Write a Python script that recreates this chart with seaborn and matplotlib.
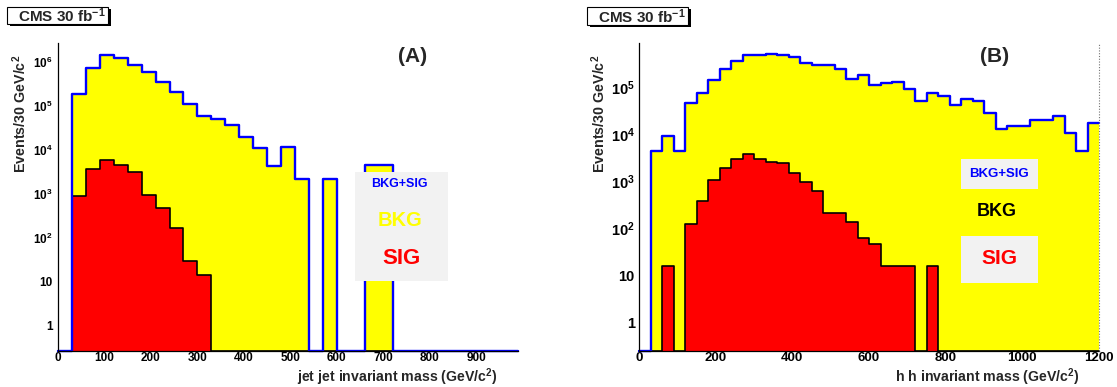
import numpy as np
import pandas as pd
import matplotlib
matplotlib.use("Agg")
import matplotlib.pyplot as plt
import seaborn as sns
from matplotlib.patches import Rectangle
from matplotlib.ticker import MultipleLocator, LogLocator, FuncFormatter, NullFormatter

# ---------------------------------------------------------------- data
BIN_WIDTH = 30  # GeV/c^2

# (A) jet-jet invariant mass, 33 bins from 0 to 990 GeV/c^2
jj_total = [0, 1.9e5, 7.4e5, 1.5e6, 1.28e6, 8.5e5, 6.1e5, 3.56e5, 2.1e5, 1.1e5,
            5.9e4, 5.0e4, 3.8e4, 2.0e4, 1.12e4, 4.4e3, 1.15e4, 2.15e3, 0, 2.15e3,
            0, 0, 4.5e3, 4.5e3, 0, 0, 0, 0, 0, 0,
            0, 0, 0]
jj_signal = [0, 900, 3.7e3, 5.8e3, 4.5e3, 3.1e3, 950, 470, 170, 29,
             14, 0, 0, 0, 0, 0, 0, 0, 0, 0,
             0, 0, 0, 0, 0, 0, 0, 0, 0, 0,
             0, 0, 0]

# (B) h h invariant mass, 40 bins from 0 to 1200 GeV/c^2
hh_total = [0, 4.5e3, 9.2e3, 4.5e3, 4.8e4, 7.8e4, 1.46e5, 2.46e5, 3.7e5, 4.9e5,
            5.0e5, 5.3e5, 4.9e5, 4.5e5, 3.4e5, 3.0e5, 3.1e5, 2.46e5, 1.55e5, 1.86e5,
            1.14e5, 1.28e5, 1.34e5, 9.5e4, 5.2e4, 7.6e4, 6.6e4, 4.2e4, 5.6e4, 5.3e4,
            2.9e4, 1.3e4, 1.5e4, 1.55e4, 2.05e4, 2.05e4, 2.5e4, 1.1e4, 4.5e3, 1.8e4]
hh_signal = [0, 0, 16, 0, 128, 390, 1.1e3, 2.0e3, 3.0e3, 3.9e3,
             3.1e3, 2.6e3, 2.5e3, 1.55e3, 980, 630, 215, 215, 138, 63,
             48, 16, 16, 16, 0, 16, 0, 0, 0, 0,
             0, 0, 0, 0, 0, 0, 0, 0, 0, 0]

panel_tags = ["(A)", "(B)"]
x_titles = ["jet jet invariant mass (GeV/c$^{2}$)", "h h invariant mass (GeV/c$^{2}$)"]
y_title = "Events/30 GeV/c$^{2}$"
lumi_text = "CMS 30 fb$^{-1}$"
legend_labels = ["BKG+SIG", "BKG", "SIG"]

# ---------------------------------------------------------------- style
sns.set_theme(style="white")
plt.rcParams["font.family"] = ["Liberation Sans", "DejaVu Sans"]
plt.rcParams["font.weight"] = "bold"
plt.rcParams["mathtext.fontset"] = "custom"
for key in ("rm", "it", "bf", "sf"):
    plt.rcParams["mathtext." + key] = "Liberation Sans:bold"

YELLOW = "#ffff00"
RED = "#ff0000"
BLUE = "#0000ff"
PANEL_GRAY = "#f2f2f2"

W, H = 1117, 387
fig = plt.figure(figsize=(W / 100, H / 100), dpi=100)
fig.patch.set_facecolor("white")


def fx(px):
    return px / W


def fy(py):
    return 1 - py / H


def log_label(v, _pos):
    if v < 1.5:
        return "1"
    if v < 15:
        return "10"
    return r"$10^{%d}$" % int(round(np.log10(v)))


def draw_panel(ax, total, signal, xmax, ylim, xmajor, xminor, xfs, yfs, ypad):
    edges = [float(e) for e in np.arange(0, xmax + BIN_WIDTH, BIN_WIDTH)]
    centers = np.array(edges[:-1]) + BIN_WIDTH / 2
    df = pd.DataFrame({"mass": centers, "total": total, "signal": signal})
    # empty bins sit on the lower edge of the log axis
    df["total_shown"] = df["total"].where(df["total"] > 0, ylim[0])
    df["signal_shown"] = df["signal"].where(df["signal"] > 0, ylim[0])

    ax.set_yscale("log")
    common = dict(data=df, x="mass", bins=edges, element="step", ax=ax)
    sns.histplot(weights="total_shown", fill=True, color=YELLOW, alpha=1,
                 linewidth=0, zorder=1, **common)
    sns.histplot(weights="signal_shown", fill=True, color=RED, alpha=1,
                 linewidth=0, zorder=2, **common)
    sns.histplot(weights="signal_shown", fill=False, color="black",
                 linewidth=1.2, zorder=3, **common)
    sns.histplot(weights="total_shown", fill=False, color=BLUE,
                 linewidth=1.7, zorder=4, **common)
    for line in ax.lines:
        line.set_clip_on(False)

    ax.set_xlim(0, xmax)
    ax.set_ylim(*ylim)
    ax.set_xlabel("")
    ax.set_ylabel("")
    ax.xaxis.label.set_visible(False)
    ax.yaxis.label.set_visible(False)
    for side in ("top", "right"):
        ax.spines[side].set_visible(False)
    for side in ("left", "bottom"):
        ax.spines[side].set_color("black")
        ax.spines[side].set_linewidth(0.9)
        ax.spines[side].set_zorder(5)

    ax.xaxis.set_major_locator(MultipleLocator(xmajor))
    ax.xaxis.set_minor_locator(MultipleLocator(xminor))
    ax.yaxis.set_major_locator(LogLocator(base=10, numticks=15))
    ax.yaxis.set_minor_locator(LogLocator(base=10, subs=np.arange(2, 10), numticks=15))
    ax.yaxis.set_major_formatter(FuncFormatter(log_label))
    ax.yaxis.set_minor_formatter(NullFormatter())
    ax.tick_params(axis="both", which="both", direction="in", colors="black",
                   width=0.8, zorder=6)
    ax.tick_params(axis="y", which="major", length=10, pad=ypad, labelsize=yfs)
    ax.tick_params(axis="y", which="minor", length=5)
    ax.tick_params(axis="x", which="major", length=6, pad=1, labelsize=xfs)
    ax.tick_params(axis="x", which="minor", length=3)
    for lab in ax.get_xticklabels() + ax.get_yticklabels():
        lab.set_fontweight("bold")


def lumi_box(x0, y0, x1, y1):
    fig.add_artist(Rectangle((fx(x0 + 3), fy(y1 + 2)), (x1 - x0) / W, (y1 - y0) / H,
                             transform=fig.transFigure, facecolor="black",
                             edgecolor="none", zorder=5))
    fig.add_artist(Rectangle((fx(x0), fy(y1)), (x1 - x0) / W, (y1 - y0) / H,
                             transform=fig.transFigure, facecolor="white",
                             edgecolor="black", linewidth=0.8, zorder=6))
    fig.text(fx((x0 + x1) / 2 + 4), fy((y0 + y1) / 2 + 0.5), lumi_text, ha="center",
             va="center", fontsize=11, fontweight="bold", zorder=7)


def gray_box(x0, y0, x1, y1):
    fig.add_artist(Rectangle((fx(x0), fy(y1)), (x1 - x0) / W, (y1 - y0) / H,
                             transform=fig.transFigure, facecolor=PANEL_GRAY,
                             edgecolor="none", zorder=5))


# ---------------------------------------------------------------- panels
ax_a = fig.add_axes([fx(58), fy(351), (518 - 58) / W, (351 - 43) / H])
ax_b = fig.add_axes([fx(639), fy(351), (1099 - 639) / W, (351 - 43) / H])

draw_panel(ax_a, jj_total, jj_signal, 990, (0.26, 2.75e6), 100, 20, 8.5, 8.5, 4)
draw_panel(ax_b, hh_total, hh_signal, 1200, (0.25, 8.9e5), 200, 40, 9.5, 10.5, 3)
ax_b.axvline(1200, color="0.45", linestyle=(0, (1, 1.5)), linewidth=0.8,
             clip_on=False, zorder=7)

# axis titles
fig.text(fx(20), fy(55), y_title, rotation=90, ha="center", va="top",
         fontsize=10.3, fontweight="bold")
fig.text(fx(599), fy(55), y_title, rotation=90, ha="center", va="top",
         fontsize=10.3, fontweight="bold")
fig.text(fx(498), fy(377), x_titles[0], ha="right", va="center",
         fontsize=10.2, fontweight="bold")
fig.text(fx(1080), fy(377), x_titles[1], ha="right", va="center",
         fontsize=10.2, fontweight="bold")

# panel tags
fig.text(fx(413), fy(56), panel_tags[0], ha="center", va="center",
         fontsize=15, fontweight="bold")
fig.text(fx(995), fy(56), panel_tags[1], ha="center", va="center",
         fontsize=15, fontweight="bold")

# luminosity boxes
lumi_box(7, 7, 108, 24)
lumi_box(587, 7, 688, 25)

# legend of panel A
gray_box(355, 172, 448, 281)
fig.text(fx(399), fy(184), legend_labels[0], color=BLUE, ha="center", va="center",
         fontsize=9, fontweight="bold", zorder=7)
fig.text(fx(400), fy(220), legend_labels[1], color=YELLOW, ha="center", va="center",
         fontsize=14.5, fontweight="bold", zorder=7)
fig.text(fx(401), fy(259), legend_labels[2], color=RED, ha="center", va="center",
         fontsize=16, fontweight="bold", zorder=7)

# legend of panel B
gray_box(961, 159, 1038, 189)
gray_box(961, 236, 1038, 283)
fig.text(fx(999), fy(174), legend_labels[0], color=BLUE, ha="center", va="center",
         fontsize=9.5, fontweight="bold", zorder=7)
fig.text(fx(997), fy(211), legend_labels[1], color="black", ha="center", va="center",
         fontsize=13, fontweight="bold", zorder=7)
fig.text(fx(999), fy(259), legend_labels[2], color=RED, ha="center", va="center",
         fontsize=15, fontweight="bold", zorder=7)

fig.savefig("out.png", dpi=100, facecolor="white")
